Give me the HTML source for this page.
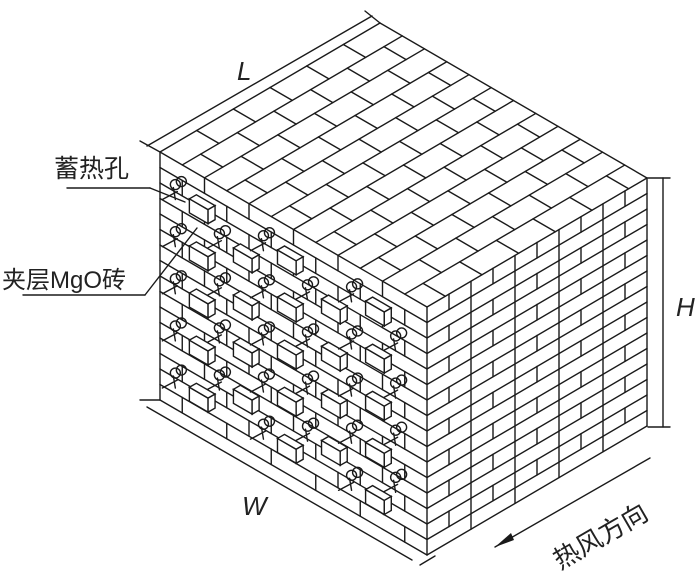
<!DOCTYPE html>
<html><head><meta charset="utf-8"><style>
html,body{margin:0;padding:0;background:#fff;}
svg{display:block}
text{font-family:"Liberation Sans","Noto Sans CJK SC",sans-serif;fill:#222}
</style></head><body>
<svg id="s" width="700" height="577" viewBox="0 0 700 577" xmlns="http://www.w3.org/2000/svg">
<g id="g" stroke="#1a1a1a" stroke-width="1.4" fill="none" stroke-linecap="round"></g>
<polygon points="495,547 511,533 514,540" fill="#1a1a1a"/>
<text x="237" y="80" font-size="26" font-style="italic">L</text>
<text x="242" y="515" font-size="26" font-style="italic">W</text>
<text x="676" y="316" font-size="26" font-style="italic">H</text>
<text x="54" y="177" font-size="25">蓄热孔</text>
<text x="2" y="288" font-size="24">夹层MgO砖</text>
<text x="0" y="0" font-size="26" transform="translate(560,570) rotate(-30)">热风方向</text>
</svg>
<script>
var g=document.getElementById('g');
var NS='http://www.w3.org/2000/svg';
function L(a,b,c,d,w){var e=document.createElementNS(NS,'line');e.setAttribute('x1',a);e.setAttribute('y1',b);e.setAttribute('x2',c);e.setAttribute('y2',d);if(w)e.setAttribute('stroke-width',w);g.appendChild(e);}
function C(x,y,r){var e=document.createElementNS(NS,'circle');e.setAttribute('cx',x);e.setAttribute('cy',y);e.setAttribute('r',r);g.appendChild(e);}
function PG(pts){var e=document.createElementNS(NS,'polygon');e.setAttribute('points',pts.map(function(p){return p[0]+','+p[1]}).join(' '));e.setAttribute('fill','#fff');g.appendChild(e);}
var A=[160,152],D=[427,307],Cc=[647,178],B=[380,23],H=248;
function T(u,w){return [A[0]+u*(D[0]-A[0])+w*(B[0]-A[0]),A[1]+u*(D[1]-A[1])+w*(B[1]-A[1])];}
function P(u,v){return [A[0]+u*(D[0]-A[0]),A[1]+u*(D[1]-A[1])+v*H];}
function Q(u,v){return [D[0]+u*(Cc[0]-D[0]),D[1]+u*(Cc[1]-D[1])+v*H];}
function seg(p,q,w){L(p[0],p[1],q[0],q[1],w);}
seg(A,D);seg(D,Cc);seg(Cc,B);seg(B,A);
seg(A,P(0,1));seg(D,P(1,1));seg(Cc,Q(1,1));seg(P(0,1),P(1,1));seg(Q(0,1),Q(1,1));
for(var i=1;i<12;i++){seg(T(i/12,0),T(i/12,1));}
for(var i=0;i<12;i++){for(var j=0;j<7;j++){var w=j/6+(i%2)/12; if(w<=0.01||w>=0.99)continue; seg(T(i/12,w),T((i+1)/12,w));}}
var N=16;
for(var k=1;k<N;k++){seg(P(0,k/N),P(1,k/N));}
for(var k=0;k<N;k++){for(var i=1;i<12;i++){ if((i+k)%2==0) seg(P(i/12,k/N),P(i/12,(k+1)/N));}}
for(var r=0;r<5;r++){for(var c=0;c<6;c++){
 var u=0.05+c*0.165, v=0.1+r*0.19+(c%2)*0.095; if(v>0.95)continue;
 var p=P(u,v);
 if(c<5){var b0=P(u+0.06,v+0.02),b1=P(u+0.13,v+0.02);
  var q0=[b0[0],b0[1]],q1=[b1[0],b1[1]],q2=[b1[0],b1[1]+14],q3=[b0[0],b0[1]+14];
  PG([q0,q1,q2,q3]);PG([[q0[0],q0[1]],[q0[0]+7,q0[1]-4],[q1[0]+7,q1[1]-4],[q1[0],q1[1]]]);
  PG([[q1[0],q1[1]],[q1[0]+7,q1[1]-4],[q2[0]+7,q2[1]-4],[q2[0],q2[1]]]);}
 C(p[0]+2,p[1],5);C(p[0]+8,p[1]-3,5);
 L(p[0]-11,p[1]+15,p[0]+4,p[1]+7);L(p[0],p[1]+3,p[0]+2,p[1]+15);
}}
for(var k=1;k<N;k++){seg(Q(0,k/N),Q(1,k/N));}
for(var i=1;i<5;i++){seg(Q(i/5,0),Q(i/5,1));}
for(var k=0;k<N;k++){if(k%2==0){for(var i=0;i<5;i++){seg(Q(i/5+0.1,k/N),Q(i/5+0.1,(k+1)/N));}}}
L(147,146,372,16);L(140,141,160,152);L(365,11,380,23);
L(147,407,412,560);L(140,400,160,400);L(420,565,435,556);
L(663,178,663,427);L(648,178,670,178);L(648,427,670,427);
L(495,547,650,458);
L(67,188,150,188);L(150,188,185,202);
L(23,295,145,295);L(145,295,197,228);
</script>
</body></html>
